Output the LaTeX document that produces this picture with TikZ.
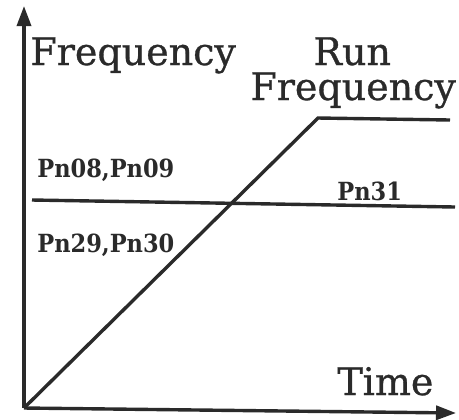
\documentclass[tikz,border=0pt]{standalone}
\usepackage{fontspec}
\setmainfont{DejaVu Serif}
\newfontfamily\heavyserif[FakeBold=0.8]{DejaVu Serif}
\newfontfamily\condserif{DejaVu Serif Condensed}
\usetikzlibrary{arrows.meta}
\definecolor{ink}{HTML}{2A2A2A}
\tikzset{
  axis/.style={line width=1.7pt, draw=ink, -{Triangle[length=10pt,width=7pt]}},
  curve/.style={line width=1.7pt, draw=ink, line join=miter},
  big/.style={inner sep=0pt, anchor=base west, text=ink, font=\heavyserif\fontsize{19}{21}\selectfont},
  small/.style={inner sep=0pt, anchor=base west, text=ink, font=\condserif\bfseries\fontsize{12.5}{14}\selectfont},
}
\begin{document}
\begin{tikzpicture}[x=0.5pt,y=-0.5pt]
\useasboundingbox (0,0) rectangle (459,419);
\coordinate (o) at (24,408);
\coordinate (ytop) at (24,6);
\coordinate (xend) at (456,413);
\coordinate (r1) at (318,118);
\coordinate (r2) at (450,120);
\coordinate (h1) at (32,200);
\coordinate (h2) at (455,207);
\draw[axis] (o) -- (ytop);
\draw[axis] (o) -- (xend);
\draw[curve] (o) -- (r1) -- (r2);
\draw[curve] (h1) -- (h2);
\node[big] (freq) at (30,65) {Frequency};
\node[big] (run) at (313,65) {Run};
\node[big] (runf) at (250,100) {Frequency};
\node[big] (time) at (337,395) {Time};
\node[small] (pn08) at (37,177) {Pn08,Pn09};
\node[small] (pn31) at (337,200) {Pn31};
\node[small] (pn29) at (37,252) {Pn29,Pn30};
\end{tikzpicture}
\end{document}
